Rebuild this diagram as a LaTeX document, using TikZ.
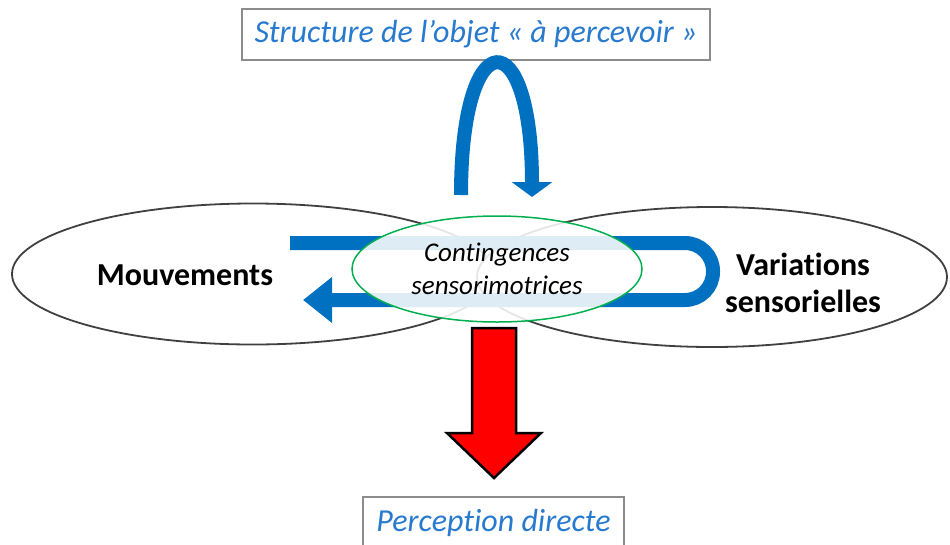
\documentclass[tikz,border=0pt]{standalone}
\usepackage{fontspec}
\setmainfont{Carlito}[Ligatures={TeX,NoCommon}]
\usepackage{tikz}
\usetikzlibrary{arrows.meta,shapes.geometric}

\begin{document}
\begin{tikzpicture}[x=1pt,y=-1pt,line join=miter,
		ovale/.style={ellipse, draw=custcol_40_40_40, line width=1.8pt, fill=white, inner sep=0},
		grastxt/.style={inner sep=0, align=center, font=\fontsize{32pt}{37pt}\bfseries\selectfont},
		labelbox/.style={draw=custcol_8c_8c_8c, line width=1.2pt, fill=white, inner sep=0, text=custcol_2e_7d_cd, font=\fontsize{32pt}{32pt}\itshape\selectfont},
		bluearrow/.style={draw=custcol_00_70_c0, line width=14pt},
		redarrow/.style={fill=red, draw=black, line width=2.5pt}]
				\definecolor{custcol_40_40_40}{RGB}{64, 64, 64}
				\definecolor{custcol_8c_8c_8c}{RGB}{140, 140, 140}
				\definecolor{custcol_2e_7d_cd}{RGB}{40, 122, 206}
				\definecolor{custcol_00_70_c0}{RGB}{0, 112, 192}
				\definecolor{custcol_00_b0_50}{RGB}{0, 176, 80}
				\useasboundingbox (0,0) rectangle (950,544);
				% les deux ovales
				\node[ovale, minimum width=482, minimum height=141] (mouv) at (253,274) {};
				\node[ovale, minimum width=470, minimum height=140] (varia) at (712,277) {};
				\node[grastxt] (mouvtxt) at (185,275) {Mouvements};
				\node[grastxt] (variatxt) at (803,283) {Variations\\sensorielles};
				% boucle sensorimotrice
				\draw [bluearrow, rounded corners=28pt, -{Triangle[length=29pt,width=44pt]}]  (290,243) -- (713,243) -- (713,300) -- (303,300) ;
				\node[ellipse, draw=custcol_00_b0_50, line width=1.5pt, fill=white, fill opacity=0.87, text opacity=1, minimum width=290, minimum height=106, inner sep=0, align=center, font=\fontsize{27pt}{33pt}\itshape\selectfont] (conting) at (497,269) {Contingences\\sensorimotrices};
				% cadres
				\node[labelbox, minimum width=468, minimum height=51] (structure) at (476,34.5) {Structure de l’objet « à percevoir »};
				\node[labelbox, minimum width=261, minimum height=52] (percep) at (493.5,523) {Perception directe};
				% fleche courbe
				\coordinate (boucleA) at (461,195);
				\coordinate (boucleB) at (532,197);
				\draw [bluearrow, -{Triangle[length=15pt,width=40pt]}]  (boucleA) .. controls (461,20) and (532,20) .. (boucleB) ;
				% fleche rouge
				\coordinate (rtop) at (472,328);
				\draw [redarrow]  (rtop) -- ++(44,0) -- ++(0,105) -- ++(25,0) -- ++(-47,45) -- ++(-47,-45) -- ++(25,0) -- cycle ;
			\end{tikzpicture}
\end{document}
